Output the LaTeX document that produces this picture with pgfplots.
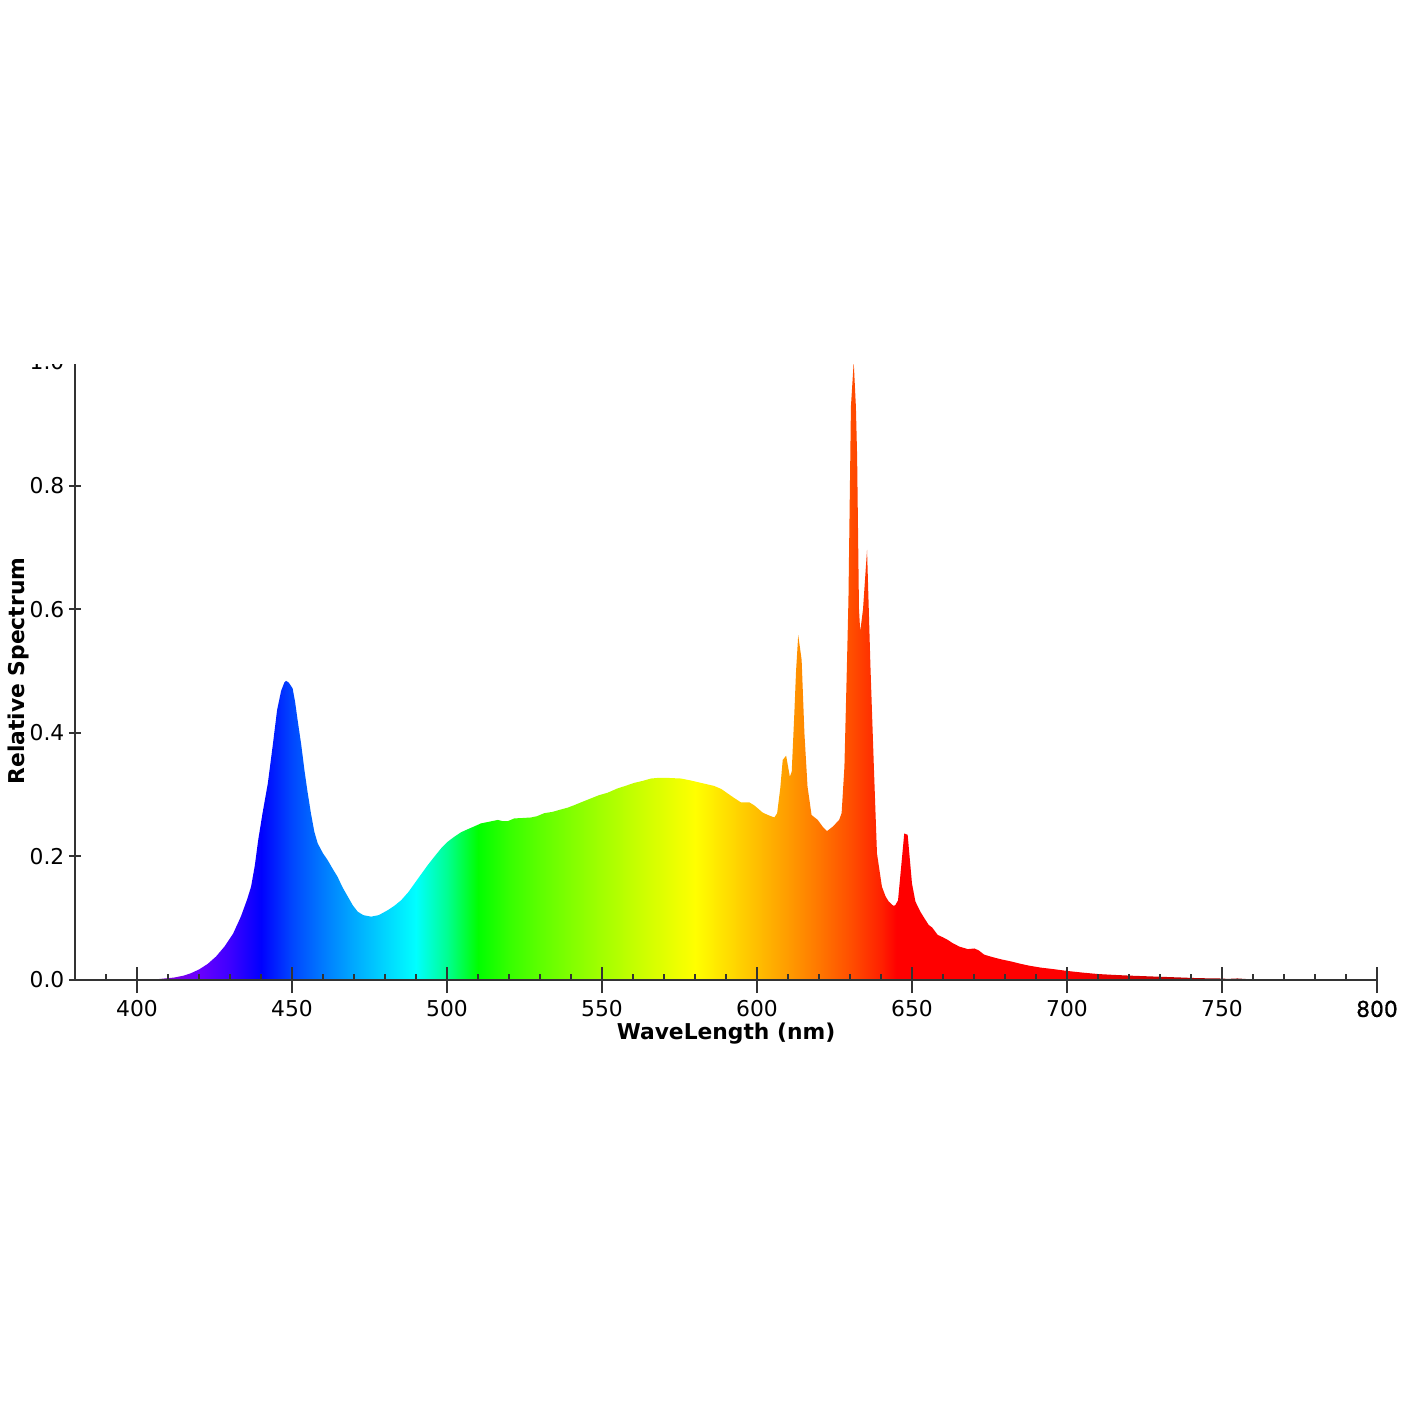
\documentclass[border=0pt]{standalone}
\usepackage{fontspec}
\setmainfont{DejaVu Sans}
\newfontfamily\fakebold[FakeBold=0.8]{DejaVu Sans}
\usepackage{pgfplots}
\pgfplotsset{compat=1.18}
\pgfdeclarehorizontalshading{spectrum}{100bp}{%
rgb(0bp)=(0.380,0,0.380);
rgb(25bp)=(0.380,0,0.380);
rgb(26.190bp)=(0.478,0,0.553);
rgb(27.381bp)=(0.514,0,0.710);
rgb(28.571bp)=(0.494,0,0.857);
rgb(29.762bp)=(0.415,0,1);
rgb(30.952bp)=(0.239,0,1);
rgb(32.143bp)=(0,0,1);
rgb(33.333bp)=(0,0.276,1);
rgb(34.524bp)=(0,0.480,1);
rgb(35.714bp)=(0,0.665,1);
rgb(36.905bp)=(0,0.837,1);
rgb(38.095bp)=(0,1,1);
rgb(39.286bp)=(0,1,0.574);
rgb(40.476bp)=(0,1,0);
rgb(41.667bp)=(0.211,1,0);
rgb(42.857bp)=(0.367,1,0);
rgb(44.048bp)=(0.508,1,0);
rgb(45.238bp)=(0.639,1,0);
rgb(46.429bp)=(0.764,1,0);
rgb(47.619bp)=(0.884,1,0);
rgb(48.810bp)=(1,1,0);
rgb(50.000bp)=(1,0.875,0);
rgb(51.190bp)=(1,0.745,0);
rgb(52.381bp)=(1,0.610,0);
rgb(53.571bp)=(1,0.466,0);
rgb(54.762bp)=(1,0.310,0);
rgb(55.952bp)=(1,0.129,0);
rgb(56.548bp)=(1,0,0);
rgb(63.095bp)=(1,0,0);
rgb(65.476bp)=(0.857,0,0);
rgb(67.857bp)=(0.708,0,0);
rgb(70.238bp)=(0.551,0,0);
rgb(72.619bp)=(0.382,0,0);
rgb(75bp)=(0.382,0,0);
rgb(100bp)=(0.382,0,0)}
\pgfplotstableread{
x y
380 0
400 0
405 0.0005
408 0.002
412 0.004
415 0.007
417.4 0.011
420 0.017
422.8 0.026
425.5 0.038
428.2 0.054
431 0.075
433.5 0.1025
435.5 0.13
436.8 0.151
438 0.185
439.1 0.2265
440.5 0.27
442.2 0.318
443.8 0.38
445.2 0.437
446.5 0.468
447.5 0.481
448.1 0.484
449 0.481
450.2 0.472
451 0.45
451.8 0.421
453 0.38
454 0.34
455 0.305
456.1 0.27
457.2 0.24
458.3 0.221
460 0.205
461.5 0.194
463 0.181
464.7 0.167
466.3 0.15
468 0.135
469.6 0.121
471.2 0.1105
473 0.105
475.5 0.1025
478 0.105
480.9 0.113
483 0.12
485.2 0.129
487.5 0.142
489.5 0.156
491.5 0.17
493.8 0.186
496 0.2
498.1 0.213
500.3 0.224
502.4 0.232
504.5 0.239
506.7 0.244
509 0.249
511 0.2535
513.5 0.256
516.4 0.259
518 0.257
519.6 0.257
521.7 0.2615
524 0.262
527.1 0.263
529 0.265
531.4 0.27
534 0.272
536.8 0.276
539 0.279
541.1 0.283
544 0.289
546.5 0.294
549 0.299
551.8 0.303
555 0.31
557.5 0.314
560.4 0.319
563 0.322
565.8 0.326
568 0.327
571.2 0.327
575.5 0.326
578.5 0.323
581.9 0.319
586.2 0.314
588.5 0.309
590.5 0.302
592.5 0.295
594.8 0.2875
597.5 0.2875
599 0.283
600.2 0.278
601.8 0.271
603.5 0.267
605.6 0.263
606.5 0.27
607.5 0.31
608.3 0.356
609.4 0.363
610.6 0.329
611.2 0.337
612 0.426
612.6 0.5
613.3 0.558
614.4 0.518
615.3 0.399
616.3 0.313
617.6 0.267
619.6 0.259
621.2 0.248
622.6 0.241
624.4 0.248
626.5 0.259
627.3 0.27
628.2 0.345
629 0.507
629.5 0.615
630.1 0.847
630.3 0.928
631.2 1.0
631.9 0.928
632.3 0.847
632.9 0.6
633.3 0.564
634.2 0.6
635.5 0.696
636.6 0.507
637.7 0.345
638.7 0.205
640.3 0.151
641.5 0.135
642.5 0.127
644 0.12
644.6 0.121
645.5 0.129
646.5 0.183
647.5 0.237
648.6 0.235
650 0.156
651.1 0.127
652.7 0.1105
654 0.1
655.4 0.089
656.5 0.085
658.3 0.073
660 0.069
661.5 0.065
663 0.06
665.3 0.054
668 0.050
670.1 0.051
671.5 0.048
673.3 0.041
676 0.037
678.7 0.0335
682 0.03
685.2 0.026
688 0.023
691.6 0.020
695 0.018
700.2 0.0146
705 0.012
709.9 0.0097
715 0.0083
720.6 0.007
726 0.006
731.4 0.005
737 0.004
742.2 0.003
749 0.0025
752 0.0018
755 0.0025
758 0.0015
764 0.0012
770 0.0010
780 0.0008
790 0.0006
799 0.0004
800 0
}\spectrumdata
\begin{document}
\fontsize{10.9pt}{13pt}\selectfont
\begin{tikzpicture}
\useasboundingbox (-37.5pt,-220pt) rectangle (672.5pt,490pt);
\clip (-37.5pt,-220pt) rectangle (672.5pt,307.5pt);
\begin{axis}[
  at={(0pt,0pt)}, anchor=south west,
  scale only axis, width=651pt, height=309pt,
  xmin=380, xmax=800, ymin=0, ymax=1.0,
  axis lines=left,
  axis line style={-, line width=1pt, draw=black!80},
  axis on top,
  clip=false,
  xtick={400,450,...,800},
  xticklabels={400,450,500,550,600,650,700,750,{\fakebold 800}},
  ytick={0,0.2,...,1.0},
  tick align=center,
  major tick length=13pt,
  xtick style={line width=1pt, draw=black!80},
  ytick style={line width=1pt, draw=black!80, /pgfplots/major tick length=6pt},
  extra x ticks={390,410,420,430,440,460,470,480,490,510,520,530,540,560,570,580,590,610,620,630,640,660,670,680,690,710,720,730,740,760,770,780,790},
  extra x tick labels={},
  extra x tick style={tick align=inside, major tick length=3pt, xtick style={line width=0.9pt, draw=black!80}},
  /pgf/number format/assume math mode=true,
  yticklabel style={/pgf/number format/fixed, /pgf/number format/fixed zerofill, /pgf/number format/precision=1, xshift=5pt},
  xlabel={\textbf{WaveLength (nm)}},
  ylabel={\textbf{Relative Spectrum}},
  xlabel style={at={(axis description cs:0.5,-0.0874)}, anchor=center},
  ylabel style={at={(axis description cs:-0.0435,0.5)}, anchor=center},
]
\addplot[draw=none, shade, shading=spectrum, shading angle=0] table[x=x, y=y] {\spectrumdata} \closedcycle;
\end{axis}
\end{tikzpicture}
\end{document}
